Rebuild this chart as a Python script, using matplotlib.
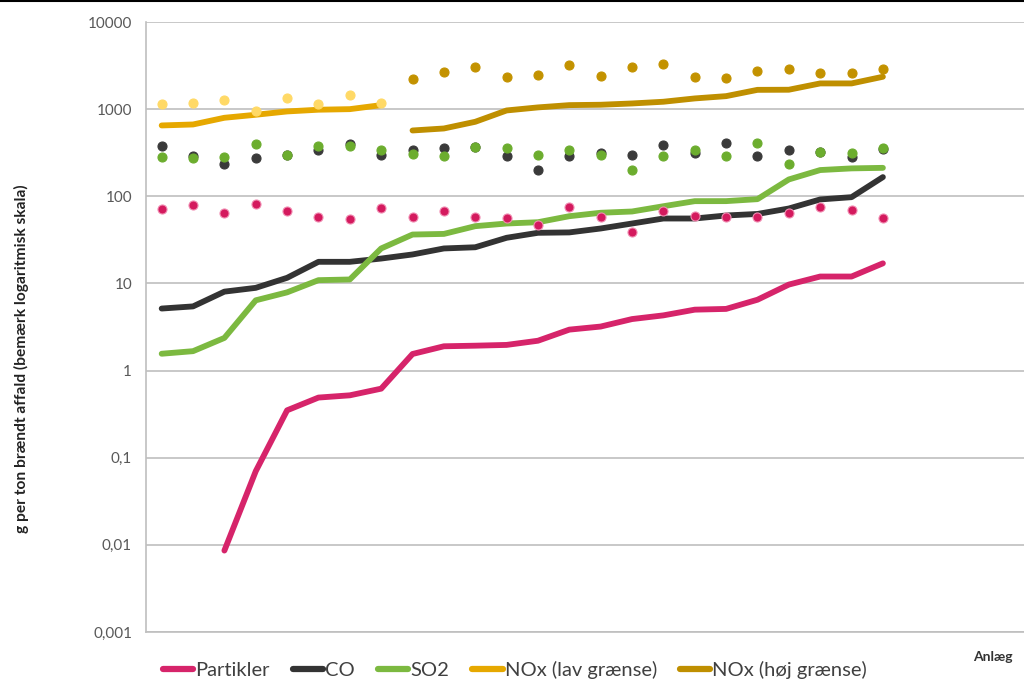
import numpy as np
import matplotlib.pyplot as plt
from matplotlib.lines import Line2D

nan = np.nan

# 28 anlæg on the category axis, data for the first 24
n_cat = 28

partikler = [nan, nan, 0.0086, 0.07, 0.35, 0.49, 0.52, 0.62, 1.55, 1.9, 1.93, 1.97,
             2.2, 2.95, 3.2, 3.9, 4.3, 5.0, 5.1, 6.5, 9.7, 12, 12, 17]
co = [5.15, 5.45, 8.05, 8.9, 11.6, 17.7, 17.7, 19.3, 21.5, 25.2, 26, 33.4,
      38.1, 38.5, 42.7, 48.7, 55.6, 55.6, 60.2, 62.7, 72.4, 92, 97.7, 166]
so2 = [1.56, 1.67, 2.37, 6.4, 7.9, 10.9, 11.1, 25.2, 36.4, 37, 45.4, 48.7,
       50.4, 59.1, 64.7, 66.9, 76.9, 87.9, 88, 92.7, 156, 200, 209, 212]
nox_lav = [650, 667, 796, 862, 941, 985, 1000, 1112] + [nan] * 16
nox_hoj = [nan] * 8 + [569, 600, 716, 966, 1047, 1112, 1123, 1162, 1216, 1327,
                       1410, 1665, 1670, 1973, 1973, 2353]

# measured values (dots)
partikler_pkt = [72, 79, 64.6, 82, 68, 57.5, 55, 73, 57.5, 67, 58, 57,
                 46.6, 75.7, 58, 39, 67, 60, 58.6, 58, 63.5, 75.7, 70.5, 57]
co_pkt = [380, 292, 236, 274, 294, 336, 396, 297, 336, 361, 370, 289,
          198, 292, 310, 294, 383, 316, 411, 289, 342, 320, 286, 350]
so2_pkt = [286, 274, 286, 396, 294, 380, 380, 336, 307, 292, 370, 354,
           297, 336, 294, 198, 289, 342, 289, 411, 236, 321, 316, 361]
nox_lav_pkt = [1153, 1163, 1268, 941, 1327, 1153, 1463, 1184] + [nan] * 16
nox_hoj_pkt = [nan] * 8 + [2193, 2687, 3035, 2353, 2437, 3176, 2373, 3035,
                           3322, 2312, 2293, 2733, 2856, 2594, 2594, 2904]

labels = ["Partikler", "CO", "SO2", "NOx (lav grænse)", "NOx (høj grænse)"]
colors = ["#D6246A", "#333333", "#7CB940", "#E6A800", "#BF8F00"]
dot_colors = ["#D41A5E", "#3A3A3A", "#6CAD2E", "#FFD966", "#C39200"]

plt.rcParams['font.family'] = ['Lato', 'DejaVu Sans']

fig = plt.figure(figsize=(10.24, 6.82), dpi=100)
ax = fig.add_axes([146 / 1024, 1 - 632 / 682, 1 - 146 / 1024, 610 / 682])

x = np.arange(24)
series = [partikler, co, so2, nox_lav, nox_hoj]
for vals, c, lab in zip(series, colors, labels):
    ax.plot(x, vals, color=c, lw=4.2, solid_capstyle='round',
            solid_joinstyle='round', label=lab, zorder=3)

dots = [co_pkt, so2_pkt, partikler_pkt, nox_lav_pkt, nox_hoj_pkt]
dcols = [dot_colors[1], dot_colors[2], dot_colors[0], dot_colors[3], dot_colors[4]]
for vals, c in zip(dots, dcols):
    edge = "#F08AB0" if c == dot_colors[0] else c
    ax.plot(x, vals, ls='none', marker='o', ms=6.5, mfc=c, mec=edge,
            mew=0.8, zorder=4)

ax.set_yscale('log')
ax.set_ylim(0.001, 10000)
ax.set_xlim(-0.5, n_cat - 0.5)
yt = [0.001, 0.01, 0.1, 1, 10, 100, 1000, 10000]
ytl = ["0,001", "0,01", "0,1", "1", "10", "100", "1000", "10000"]
ax.set_yticks(yt)
ax.set_yticklabels(ytl)
ax.yaxis.set_minor_locator(plt.NullLocator())
ax.set_xticks([])
ax.tick_params(axis='y', length=0, pad=10, labelsize=11, labelcolor="#595959")
ax.grid(axis='y', color="#BFBFBF", lw=1.2)
ax.set_axisbelow(True)
for s in ['top', 'right']:
    ax.spines[s].set_visible(False)
for s in ['left', 'bottom']:
    ax.spines[s].set_color("#BFBFBF")
    ax.spines[s].set_linewidth(1.2)

fig.text(21 / 1024, 1 - 359 / 682,
         "g per ton brændt affald (bemærk logaritmisk skala)",
         rotation=90, ha='center', va='center', fontsize=11.2,
         fontweight='bold', color="#222222")

handles = [Line2D([0], [0], color=c, lw=4.5, solid_capstyle='round') for c in colors]
fig.legend(handles, labels, loc='center', ncol=5, frameon=False,
           bbox_to_anchor=(515 / 1024, 1 - 670 / 682), fontsize=14.5,
           handlelength=1.5, handletextpad=0.1, columnspacing=1.15,
           labelcolor="#404040", borderpad=0)

fig.text(993 / 1024, 1 - 657 / 682, "Anlæg", fontsize=10, fontweight='bold',
         color="#333333", ha='center', va='center')

fig.add_artist(Line2D([0, 1], [0.999, 0.999], color='black', lw=1.5,
                      transform=fig.transFigure))

fig.savefig("out.png", dpi=100)
